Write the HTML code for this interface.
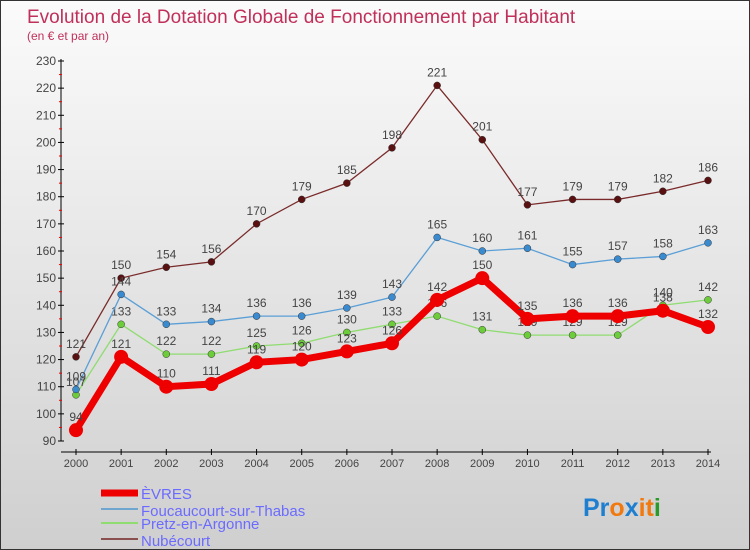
<!DOCTYPE html>
<html><head><meta charset="utf-8"><style>
body{margin:0}
#c{width:750px;height:550px;position:relative;overflow:hidden;font-family:"Liberation Sans",sans-serif;background:linear-gradient(#fbfbfb,#cfcfcf);box-sizing:border-box;border:1px solid #333}
</style></head><body>
<div id="c">
<svg id="s" width="750" height="550" style="position:absolute;left:0;top:0">
<text x="26" y="22" font-size="19" fill="#c0305a">Evolution de la Dotation Globale de Fonctionnement par Habitant</text>
<text x="26" y="39" font-size="12" fill="#c0305a">(en € et par an)</text>
<g id="axes"></g><g id="series"></g>
<g>
<line x1="100" y1="492" x2="137" y2="492" stroke="#e00" stroke-width="7"/>
<line x1="100" y1="508" x2="137" y2="508" stroke="#6fa6cf" stroke-width="2"/>
<line x1="100" y1="522" x2="137" y2="522" stroke="#8fdc70" stroke-width="2"/>
<line x1="100" y1="538" x2="137" y2="538" stroke="#8a5050" stroke-width="2"/>
<g font-size="15" fill="#6b6bff">
<text x="140" y="498">ÈVRES</text>
<text x="140" y="515">Foucaucourt-sur-Thabas</text>
<text x="140" y="528">Pretz-en-Argonne</text>
<text x="140" y="545">Nubécourt</text>
</g></g>
<text x="582" y="515" font-size="25" font-weight="bold"><tspan fill="#1e7fd0">Pr</tspan><tspan fill="#f07a10">o</tspan><tspan fill="#1e7fd0">x</tspan><tspan fill="#f07a10">it</tspan><tspan fill="#2a9a2a">i</tspan></text>
</svg>
</div>
<script>
const years=[2000,2001,2002,2003,2004,2005,2006,2007,2008,2009,2010,2011,2012,2013,2014];
const evres=[94,121,110,111,119,120,123,126,142,150,135,136,136,138,132];
const foucaucourt=[109,144,133,134,136,136,139,143,165,160,161,155,157,158,163];
const pretz=[107,133,122,122,125,126,130,133,136,131,129,129,129,140,142];
const nubecourt=[121,150,154,156,170,179,185,198,221,201,177,179,179,182,186];
const yTicks=[90,100,110,120,130,140,150,160,170,180,190,200,210,220,230];
const NS="http://www.w3.org/2000/svg";
const X=i=>75+i*(707-75)/14, Y=v=>440-(v-90)*(380/140);
function el(t,a,p){const e=document.createElementNS(NS,t);for(const k in a)e.setAttribute(k,a[k]);p.appendChild(e);return e;}
const ax=document.getElementById('axes');
const yl=el('line',{x1:60,y1:58,x2:60,y2:440,stroke:'#000'},ax);


const xl=el('line',{x1:60,y1:451,x2:710,y2:451,stroke:'#000'},ax);


yTicks.forEach((v,i)=>{
 el('line',{x1:57,y1:Y(v),x2:63,y2:Y(v),stroke:'#000'},ax);
 if(i<yTicks.length-1)el('line',{x1:58,y1:Y(v+5),x2:61,y2:Y(v+5),stroke:'#e00'},ax);
 const t=el('text',{x:55,y:Y(v)+4,'text-anchor':'end','font-size':12,fill:'#444'},ax);t.textContent=v;
 
 
});
years.forEach((y,i)=>{
 el('line',{x1:X(i),y1:448,x2:X(i),y2:454,stroke:'#000'},ax);
 const t=el('text',{x:X(i),y:466,'text-anchor':'middle','font-size':11,fill:'#444'},ax);t.textContent=y;
 
 
});
const sg=document.getElementById('series');
const defs=[[nubecourt,'#7a2a2a','#5a1010',1.3,3.5,'nubecourt'],[pretz,'#8fdc70','#6ccc3a',1.3,3.5,'pretz'],[foucaucourt,'#5b9fd6','#3a8ad0',1.3,3.5,'foucaucourt'],[evres,'#ee0000','#ee0000',7,7,'evres']];
defs.forEach(([d,c,f,w,r,n])=>{
 const g=el('g',{},sg);
 
 
 const p=el('polyline',{points:d.map((v,i)=>X(i)+','+Y(v)).join(' '),fill:'none',stroke:c,'stroke-width':w},g);
 
 
 d.forEach((v,i)=>{
  const m=el('circle',{cx:X(i),cy:Y(v),r:r,fill:f,stroke:n=='evres'?'#e00':'#333','stroke-width':n=='evres'?0:0.5},g);
  
  
  const t=el('text',{x:X(i),y:Y(v)-9,'text-anchor':'middle','font-size':12,fill:'#444'},g);t.textContent=v;
  
  
 });
});
</script>
</body></html>
